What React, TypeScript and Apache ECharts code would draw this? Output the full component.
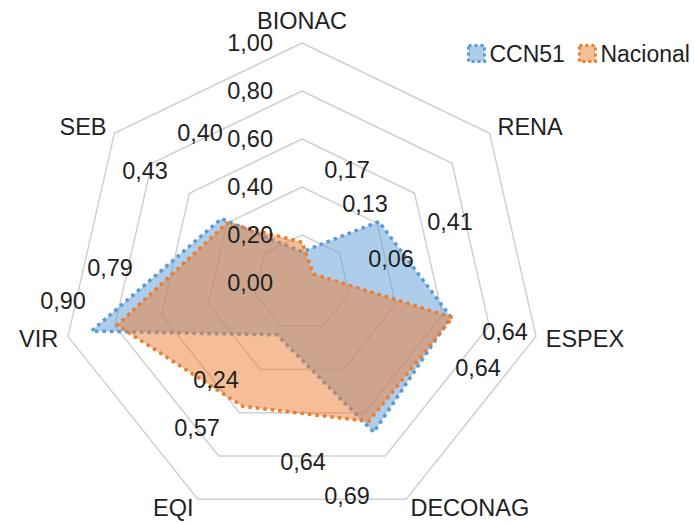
import React, { useEffect, useRef } from "react";
import * as echarts from "echarts";

// Indicators in clockwise order starting at the top
const indicators = ["BIONAC", "RENA", "ESPEX", "DECONAG", "EQI", "VIR", "SEB"];
const seriesNames = ["CCN51", "Nacional"];
const ccn51Values = [0.13, 0.41, 0.636, 0.69, 0.24, 0.9, 0.43];
const nacionalValues = [0.17, 0.06, 0.644, 0.64, 0.57, 0.79, 0.4];
const tickValues = [0, 0.2, 0.4, 0.6, 0.8, 1.0];

// Data-label placement (pixel offsets from the radar centre), as in the reference
const ccn51LabelPos = [
  [63, -79], [148, -61], [176, 85], [45, 213], [-86, 97], [-239, 18], [-157, -112],
];
const nacionalLabelPos = [
  [45, -113], [89, -24], [203, 49], [1, 179], [-105, 145], [-192, -15], [-102, -150],
];

const BLUE = "#5B9BD5";
const ORANGE = "#ED7D31";
const TEXT = "#1F1F1F";
const FONT = "'Liberation Sans', Arial, sans-serif";
const FS = 23.5;
const CX = 302;
const CY = 283;
const R = 240;

const fmt = (v: number) => v.toFixed(2).replace(".", ",");

export default function App() {
  const ref = useRef<HTMLDivElement>(null);
  useEffect(() => {
    document.body.style.margin = "0";
    if (!ref.current) return;
    const chart = echarts.init(ref.current, null, { renderer: "svg" });

    // ECharts lays indicators counter-clockwise; reorder so they read clockwise
    const order = indicators.map((_, i) => (i === 0 ? 0 : indicators.length - i));
    const ind = order.map((i) => ({
      name: indicators[i],
      min: tickValues[0],
      max: tickValues[tickValues.length - 1],
    }));
    const reorder = (arr: number[]) => order.map((i) => arr[i]);

    const radarBase = {
      center: [CX, CY],
      radius: R,
      startAngle: 90,
      shape: "polygon",
      splitNumber: tickValues.length - 1,
    };

    const labels: any[] = [];
    const addLabels = (vals: number[], pos: number[][]) => {
      vals.forEach((v, i) => {
        labels.push({
          type: "text",
          x: CX + pos[i][0],
          y: CY + pos[i][1],
          z: 100,
          style: {
            text: fmt(v),
            fontSize: FS,
            fontFamily: FONT,
            fill: TEXT,
            align: "center",
            verticalAlign: "middle",
          },
        });
      });
    };
    addLabels(ccn51Values, ccn51LabelPos);
    addLabels(nacionalValues, nacionalLabelPos);

    chart.setOption({
      animation: false,
      legend: {
        orient: "horizontal",
        left: 462,
        top: 37,
        width: 400,
        itemWidth: 16,
        itemHeight: 16,
        itemGap: 13,
        icon: "rect",
        textStyle: { fontSize: 23, fontFamily: FONT, color: TEXT },
        data: [
          {
            name: seriesNames[0],
            itemStyle: { color: "rgba(91,155,213,0.5)", borderColor: BLUE, borderWidth: 3, borderType: [3, 3] },
          },
          {
            name: seriesNames[1],
            itemStyle: { color: "rgba(237,125,49,0.5)", borderColor: ORANGE, borderWidth: 3, borderType: [3, 3] },
          },
        ],
      },
      radar: [
        {
          ...radarBase,
          indicator: ind,
          nameGap: 10,
          axisName: { color: TEXT, fontSize: FS, fontFamily: FONT },
          axisLine: { show: false },
          axisTick: { show: false },
          axisLabel: { show: false },
          splitArea: { show: false },
          splitLine: { lineStyle: { color: "#D0D0D0", width: 1.5 } },
        },
        {
          ...radarBase,
          z: 10,
          indicator: ind.map((d, i) => ({
            ...d,
            axisLabel: i === 0 ? { show: true } : { show: false },
          })),
          axisName: { show: false },
          axisLine: { show: false },
          axisTick: { show: false },
          splitArea: { show: false },
          splitLine: { show: false },
          axisLabel: {
            show: false,
            margin: 29,
            fontSize: FS,
            fontFamily: FONT,
            color: TEXT,
            formatter: (v: number) => fmt(v),
          },
        },
      ],
      series: [
        {
          type: "radar",
          name: seriesNames[0],
          radarIndex: 0,
          symbol: "none",
          itemStyle: { color: BLUE },
          lineStyle: { color: BLUE, width: 3.5, type: [3.5, 4] },
          areaStyle: { color: BLUE, opacity: 0.5 },
          data: [{ name: seriesNames[0], value: reorder(ccn51Values) }],
        },
        {
          type: "radar",
          name: seriesNames[1],
          radarIndex: 0,
          symbol: "none",
          itemStyle: { color: ORANGE },
          lineStyle: { color: ORANGE, width: 3.5, type: [3.5, 4] },
          areaStyle: { color: ORANGE, opacity: 0.5 },
          data: [{ name: seriesNames[1], value: reorder(nacionalValues) }],
        },
      ],
      graphic: labels,
    });
    return () => chart.dispose();
  }, []);
  return <div ref={ref} style={{ width: 694, height: 523 }} />;
}
